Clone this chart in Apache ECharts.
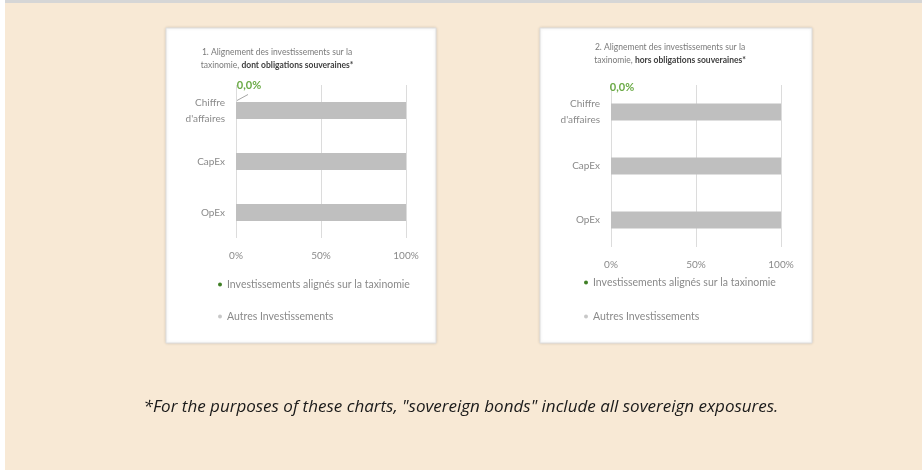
<!DOCTYPE html>
<html><head><meta charset="utf-8">
<script src="https://cdn.jsdelivr.net/npm/echarts@6/dist/echarts.min.js"></script>
<style>html,body{margin:0;padding:0;background:#fff}#c{width:922px;height:470px}</style>
</head><body><div id="c"></div>
<script>
const categories = ["Chiffre\nd'affaires", "CapEx", "OpEx"];
const aligned1 = [0, 0, 0];
const others1 = [100, 100, 100];
const aligned2 = [0, 0, 0];
const others2 = [100, 100, 100];
const xTicks = [0, 50, 100];
const seriesNames = ["Investissements alignés sur la taxinomie", "Autres Investissements"];
const titleLine1 = ["1. Alignement des investissements sur la", "2. Alignement des investissements sur la"];
const titleBold = ["dont obligations souveraines*", "hors obligations souveraines*"];
const footnote = '*For the purposes of these charts, "sovereign bonds" include all sovereign exposures.';

const FONT = 'Lato';
const GREEN = '#5f9e3c';
const GRAY = '#bfbfbf';
const TXT = '#8a8a8a';

const chart = echarts.init(document.getElementById('c'));

function pct(v){ return v + '%'; }
function fmtLabel(v){ return v.toFixed(1).replace('.', ',') + '%'; }

const grids = [
  {left: 236, top: 85, width: 170, height: 153},
  {left: 611, top: 85, width: 170, height: 162}
];

function xAx(i){
  return {
    type: 'value', gridIndex: i, min: xTicks[0], max: xTicks[xTicks.length - 1], interval: xTicks[1] - xTicks[0],
    axisLine: {show: false}, axisTick: {show: false},
    splitLine: {show: true, lineStyle: {color: '#dcdcdc', width: 1}},
    axisLabel: {formatter: pct, color: TXT, fontFamily: FONT, fontSize: 10, margin: 13}
  };
}
function yAx(i){
  return {
    type: 'category', gridIndex: i, data: categories, inverse: true,
    axisLine: {show: false}, axisTick: {show: false},
    axisLabel: {color: TXT, fontFamily: FONT, fontSize: 10, lineHeight: 16, margin: 11, align: 'right'}
  };
}
function alignedSeries(i, data, off){
  return {
    name: seriesNames[0], type: 'bar', stack: 's' + i, xAxisIndex: i, yAxisIndex: i,
    barWidth: 17, itemStyle: {color: GREEN},
    data: data.map((v, k) => k === 0 ? {
      value: v,
      label: {show: true, position: 'top', formatter: p => fmtLabel(p.value), offset: off,
        color: '#6aaa45', fontFamily: FONT, fontWeight: 'bold', fontSize: 11, distance: 4}
    } : v)
  };
}
function othersSeries(i, data){
  return {
    name: seriesNames[1], type: 'bar', stack: 's' + i, xAxisIndex: i, yAxisIndex: i,
    barWidth: 17, itemStyle: {color: GRAY}, data: data
  };
}
function legend(i, left, top, gap){
  return {
    orient: 'vertical', left: left, top: top, itemGap: gap,
    icon: 'circle', itemWidth: 4, itemHeight: 4,
    textStyle: {color: TXT, fontFamily: FONT, fontSize: 10.5},
    data: [{name: seriesNames[0], itemStyle: {color: '#3f7f25'}}, {name: seriesNames[1], itemStyle: {color: '#c8c8c8'}}],
    selectedMode: false
  };
}
function titleObj(i, cx, top){
  return {
    text: titleLine1[i] + '\n{n|taxinomie, }{b|' + titleBold[i] + '}',
    left: cx, top: top, textAlign: 'center',
    textStyle: {color: '#7a7a7a', fontFamily: FONT, fontSize: 8.5, fontWeight: 'normal', lineHeight: 13,
      rich: {n: {color: '#7a7a7a', fontFamily: FONT, fontSize: 8.5}, b: {color: '#404040', fontFamily: FONT, fontSize: 8.5, fontWeight: 'bold'}}}
  };
}

chart.setOption({
  animation: false,
  backgroundColor: '#ffffff',
  graphic: {elements: [
    {id: 'bg', type: 'rect', z: -10, shape: {x: 5, y: 0, width: 917, height: 470}, style: {fill: '#f8e9d5'}},
    {id: 'top', type: 'rect', z: -9, shape: {x: 5, y: 0, width: 917, height: 3}, style: {fill: '#d6d6d6'}},
    {id: 'p1', type: 'rect', z: -8, shape: {x: 166, y: 28, width: 270, height: 315}, style: {fill: '#ffffff', stroke: '#dedede', lineWidth: 1, shadowBlur: 3, shadowColor: 'rgba(0,0,0,0.12)'}},
    {id: 'p2', type: 'rect', z: -8, shape: {x: 540, y: 28, width: 272, height: 315}, style: {fill: '#ffffff', stroke: '#dedede', lineWidth: 1, shadowBlur: 3, shadowColor: 'rgba(0,0,0,0.12)'}},
    {id: 'fn', type: 'text', z: 5, x: 461, y: 407, style: {text: footnote, x: 0, y: 0, align: 'center', verticalAlign: 'middle',
      fill: '#1a1a1a', font: 'italic 17px "Open Sans"'}}
  ]},
  title: [titleObj(0, 272, 41), titleObj(1, 665, 36)],
  legend: [legend(0, 213, 274, 21), legend(1, 579, 272, 23)],
  grid: grids,
  xAxis: [xAx(0), xAx(1)],
  yAxis: [yAx(0), yAx(1)],
  series: [
    alignedSeries(0, aligned1, [13, -7]), othersSeries(0, others1),
    alignedSeries(1, aligned2, [11, -7]), othersSeries(1, others2)
  ]
});

// leader line from the first-category bar start to its data label (chart 1)
const a = chart.convertToPixel({gridIndex: 0}, [aligned1[0], categories[0]]);
chart.setOption({graphic: {elements: [
  {id: 'lead', type: 'line', z: 10, shape: {x1: a[0] + 1, y1: a[1] - 10, x2: a[0] + 12, y2: a[1] - 16},
   style: {stroke: '#a6a6a6', lineWidth: 1}}
]}});
</script></body></html>
